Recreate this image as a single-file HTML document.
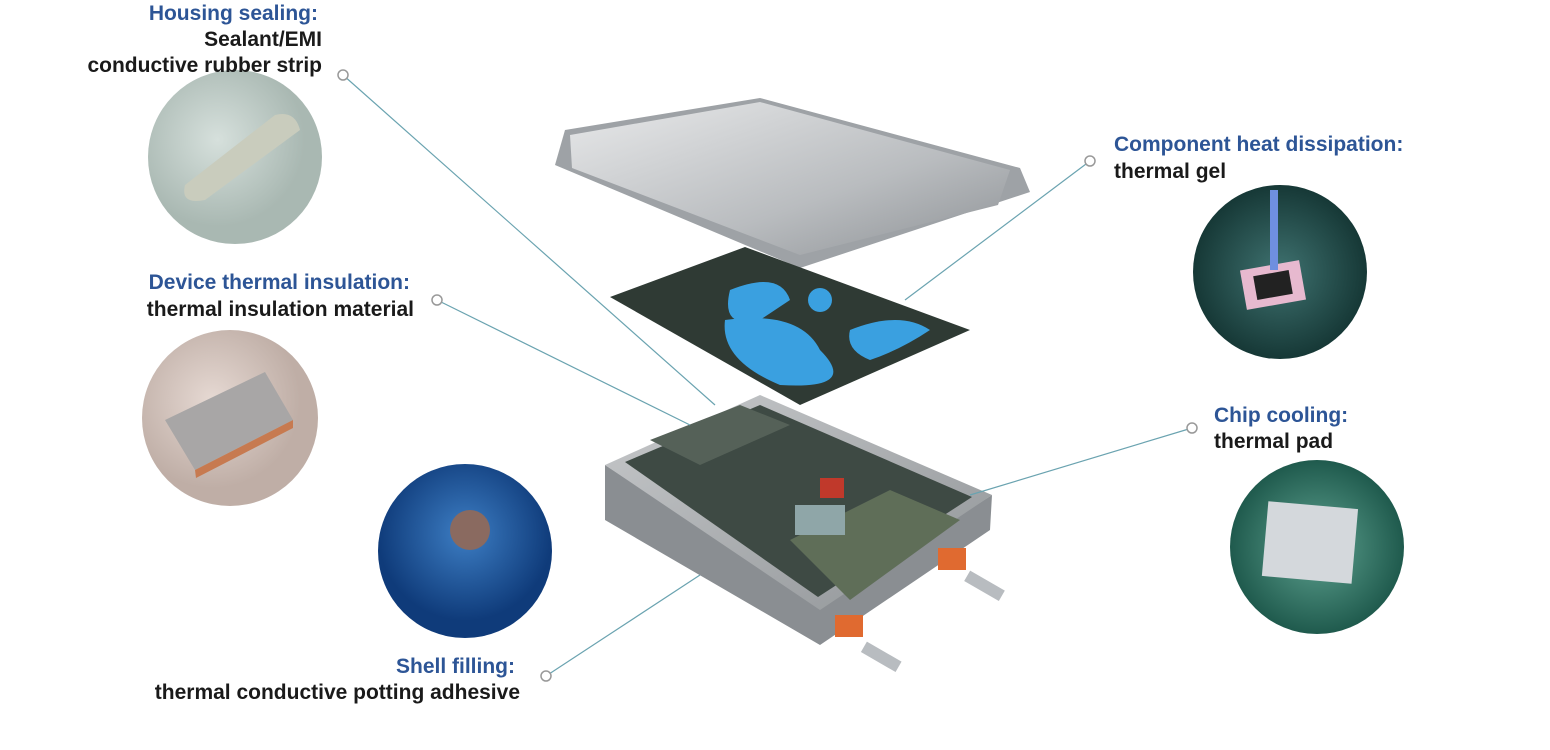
<!DOCTYPE html>
<html><head><meta charset="utf-8"><style>
html,body{margin:0;padding:0;background:#fff;}
#c{position:relative;width:1550px;height:750px;overflow:hidden;font-family:"Liberation Sans",sans-serif;font-weight:bold;font-size:21px;}
.t{position:absolute;white-space:nowrap;line-height:26px;}
.b{color:#2d5596;}
.k{color:#1a1a1a;}
.r{text-align:right;}
</style></head><body><div id="c">
<svg width="1550" height="750" style="position:absolute;left:0;top:0">
<defs>
<radialGradient id="g1" cx="40%" cy="40%"><stop offset="0" stop-color="#d6e0dc"/><stop offset="1" stop-color="#a9b8b2"/></radialGradient>
<radialGradient id="g2" cx="40%" cy="40%"><stop offset="0" stop-color="#e6d9d3"/><stop offset="1" stop-color="#bfaea6"/></radialGradient>
<radialGradient id="g3" cx="50%" cy="40%"><stop offset="0" stop-color="#3d7ec4"/><stop offset="1" stop-color="#0f3b7a"/></radialGradient>
<radialGradient id="g4" cx="50%" cy="50%"><stop offset="0" stop-color="#3f7270"/><stop offset="1" stop-color="#163836"/></radialGradient>
<radialGradient id="g5" cx="50%" cy="50%"><stop offset="0" stop-color="#5fa391"/><stop offset="1" stop-color="#1f5a4d"/></radialGradient>
<linearGradient id="lid" x1="0" y1="0" x2="1" y2="1"><stop offset="0" stop-color="#e8e9ea"/><stop offset="0.6" stop-color="#b9bcbf"/><stop offset="1" stop-color="#8d9195"/></linearGradient>
<linearGradient id="box" x1="0" y1="0" x2="1" y2="1"><stop offset="0" stop-color="#c8cacc"/><stop offset="1" stop-color="#8f9396"/></linearGradient>
</defs>
<circle cx="235" cy="157" r="87" fill="url(#g1)"/>
<path d="M185 185 L275 115 Q295 110 300 130 L205 200 Q180 205 185 185Z" fill="#c9ccbd"/>
<circle cx="230" cy="418" r="88" fill="url(#g2)"/>
<path d="M165 420 L265 372 L293 420 L195 470Z" fill="#a8a6a6"/>
<path d="M195 470 L293 420 L293 428 L196 478Z" fill="#c77a50"/>
<circle cx="465" cy="551" r="87" fill="url(#g3)"/>
<circle cx="470" cy="530" r="20" fill="#8a6a60"/>
<circle cx="1280" cy="272" r="87" fill="url(#g4)"/>
<rect x="1243" y="265" width="60" height="40" fill="#e7b9cf" transform="rotate(-10 1273 285)"/>
<rect x="1255" y="273" width="36" height="24" fill="#222" transform="rotate(-10 1273 285)"/>
<rect x="1270" y="190" width="8" height="80" fill="#6f8fe0"/>
<circle cx="1317" cy="547" r="87" fill="url(#g5)"/>
<rect x="1265" y="505" width="90" height="75" fill="#d4d8dc" transform="rotate(5 1310 542)"/>
<!-- lid -->
<path d="M555 165 L565 130 L760 98 L1020 168 L1030 192 L800 268 Z" fill="#9ea2a6"/>
<path d="M570 135 L760 102 L1010 170 L998 205 L800 255 L572 168Z" fill="url(#lid)"/>
<!-- pcb -->
<path d="M610 297 L745 247 L970 330 L800 405 Z" fill="#2f3a34"/>
<path d="M730 290 Q780 270 790 300 L760 320 Q720 330 730 290Z" fill="#3aa0e0"/>
<path d="M725 320 Q800 310 820 350 Q860 390 780 385 Q720 360 725 320Z" fill="#3aa0e0"/>
<path d="M850 330 Q900 310 930 330 Q900 350 870 360 Q845 350 850 330Z" fill="#3aa0e0"/>
<circle cx="820" cy="300" r="12" fill="#3aa0e0"/>
<!-- box -->
<path d="M605 465 L605 520 L820 645 L990 530 L992 495 L820 605 Z" fill="#8a8e92"/>
<path d="M605 465 L760 395 L992 495 L820 610 Z" fill="url(#box)"/>
<path d="M625 462 L760 405 L972 497 L818 597 Z" fill="#3e4a44"/>
<path d="M650 440 L740 405 L790 425 L700 465Z" fill="#556158"/>
<path d="M790 540 L890 490 L960 520 L850 600Z" fill="#5f6e58"/>
<rect x="795" y="505" width="50" height="30" fill="#8fa6a8"/>
<rect x="820" y="478" width="24" height="20" fill="#c0392b"/>
<rect x="835" y="615" width="28" height="22" fill="#e06a30"/>
<rect x="938" y="548" width="28" height="22" fill="#e06a30"/>
<rect x="862" y="650" width="40" height="12" fill="#b8bcc0" transform="rotate(30 880 655)"/>
<rect x="965" y="580" width="40" height="12" fill="#b8bcc0" transform="rotate(30 985 585)"/>
<!-- leaders -->
<g stroke="#6aa3b0" stroke-width="1.2" fill="none">
<line x1="343" y1="75" x2="715" y2="405"/>
<line x1="437" y1="300" x2="690" y2="425"/>
<line x1="546" y1="676" x2="700" y2="575"/>
<line x1="1090" y1="161" x2="905" y2="300"/>
<line x1="1192" y1="428" x2="970" y2="495"/>
</g>
<g fill="#fff" stroke="#999" stroke-width="1.5">
<circle cx="343" cy="75" r="5"/><circle cx="437" cy="300" r="5"/><circle cx="546" cy="676" r="5"/><circle cx="1090" cy="161" r="5"/><circle cx="1192" cy="428" r="5"/>
</g>
</svg>
<div class="t b r" style="right:1232px;top:1px">Housing sealing:</div>
<div class="t k r" style="right:1228px;top:27px">Sealant/EMI</div>
<div class="t k r" style="right:1228px;top:53px">conductive rubber strip</div>
<div class="t b r" style="right:1140px;top:270px">Device thermal insulation:</div>
<div class="t k r" style="right:1136px;top:297px">thermal insulation material</div>
<div class="t b r" style="right:1035px;top:654px">Shell filling:</div>
<div class="t k r" style="right:1030px;top:680px">thermal conductive potting adhesive</div>
<div class="t b" style="left:1114px;top:132px">Component heat dissipation:</div>
<div class="t k" style="left:1114px;top:159px">thermal gel</div>
<div class="t b" style="left:1214px;top:403px">Chip cooling:</div>
<div class="t k" style="left:1214px;top:429px">thermal pad</div>
</div></body></html>
